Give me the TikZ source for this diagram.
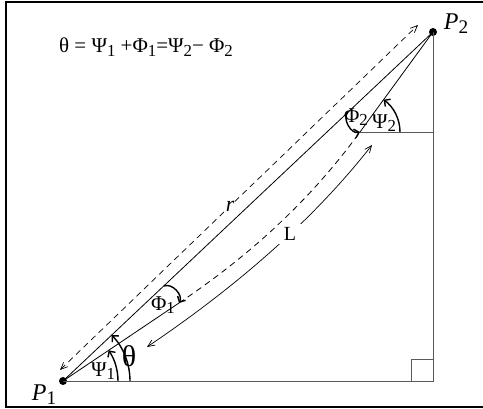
\documentclass[tikz,border=0pt]{standalone}
\usepackage{fontspec}
\usepackage{graphicx}
\setmainfont{Liberation Serif}
\usetikzlibrary{arrows.meta}
\newcommand\lsub[1]{\raisebox{-0.35ex}{\scalebox{0.8}{#1}}}
\begin{document}
\begin{tikzpicture}[x=1pt,y=1pt,
  solidline/.style={line width=0.8pt},
  grayline/.style={line width=0.8pt, draw=black!65},
  dashline/.style={line width=0.8pt, dash pattern=on 6pt off 4.5pt},
  angarrow/.style={line width=1.4pt, -{Straight Barb[length=4.5pt,width=9pt]}},
  dblarrow/.style={line width=0.7pt, {Straight Barb[length=7pt,width=6pt]}-{Straight Barb[length=7pt,width=6pt]}},
  lab/.style={font=\fontsize{21}{21}\selectfont, inner sep=0pt},
  plab/.style={font=\fontsize{24}{24}\selectfont\itshape, inner sep=0pt},
  dot/.style={circle, fill=black, inner sep=0pt, minimum size=8pt},
]
\useasboundingbox (0,0) rectangle (483,409);
\draw[line width=1.6pt] (6,2) rectangle (485,407);

% points
\node[dot] (P1) at (63,28) {};
\node[dot] (P2) at (433,377) {};
\coordinate (C) at (433,28);
\coordinate (A) at (179,106);
\coordinate (B) at (360,277);
\coordinate (H) at (433,277);
\coordinate (Q1) at (411,28);
\coordinate (Q2) at (411,50);
\coordinate (Q3) at (433,50);

% frame lines
\draw[grayline] (P1.center) -- (C) -- (P2.center);
\draw[grayline] (B) -- (H);
\draw[grayline] (Q1) -- (Q2) -- (Q3);

% chord
\draw[solidline] (P1.center) -- (P2.center);
% path
\draw[solidline] (P1.center) -- (A);
\draw[dashline] (A) .. controls (249.6,153.4) and (309.9,208.3) .. (B);
\draw[solidline] (B) -- (P2.center);

% r arrow
\coordinate (rA) at (60,39);
\coordinate (rB) at (418,384);
\draw[dashline, dblarrow] (rA) -- node[pos=0.475, fill=white, inner sep=1pt, font=\fontsize{22}{22}\selectfont\itshape] (r) {r} (rB);

% L arrow
\coordinate (LA) at (147,62);
\coordinate (LB) at (372,264);
\draw[dblarrow] (LA) .. controls (229.9,117.9) and (310.4,185.2) .. node[pos=0.6, circle, fill=white, inner sep=4pt, font=\fontsize{20}{20}\selectfont] (L) {L} (LB);

% angle arrows at P1
\draw[angarrow] ([shift={(0:55)}]P1.center) arc[start angle=0, end angle=33.9, radius=55];
\draw[angarrow] ([shift={(0:67)}]P1.center) arc[start angle=0, end angle=43.3, radius=67];
\coordinate (F1) at (164,123);
\draw[angarrow] (F1) to[bend left=70] (A);
% angle arrows at P2 side
\coordinate (F2) at (348,297);
\draw[angarrow] (F2) to[bend right=75] (B);
\draw[angarrow] ([shift={(0:40)}]B) arc[start angle=0, end angle=53.9, radius=40];

% labels
\node[lab] (psi1) at (103,38) {Ψ\lsub{1}};
\node[font=\fontsize{30}{30}\selectfont, inner sep=0pt] (theta) at (129,53) {θ};
\node[lab] (phi1) at (163,104) {Φ\lsub{1}};
\node[lab] (phi2) at (356,292) {Φ\lsub{2}};
\node[lab] (psi2) at (384,286) {Ψ\lsub{2}};
\node[plab] (p1lab) at (44,14) {P\lsub{\upshape 1}};
\node[plab] (p2lab) at (456,385) {P\lsub{\upshape 2}};

% equation
\node[font=\fontsize{21}{21}\selectfont, inner sep=0pt] (eq) at (146,362)
  {θ = Ψ\lsub{1} +Φ\lsub{1}=Ψ\lsub{2}− Φ\lsub{2}};
\end{tikzpicture}
\end{document}
